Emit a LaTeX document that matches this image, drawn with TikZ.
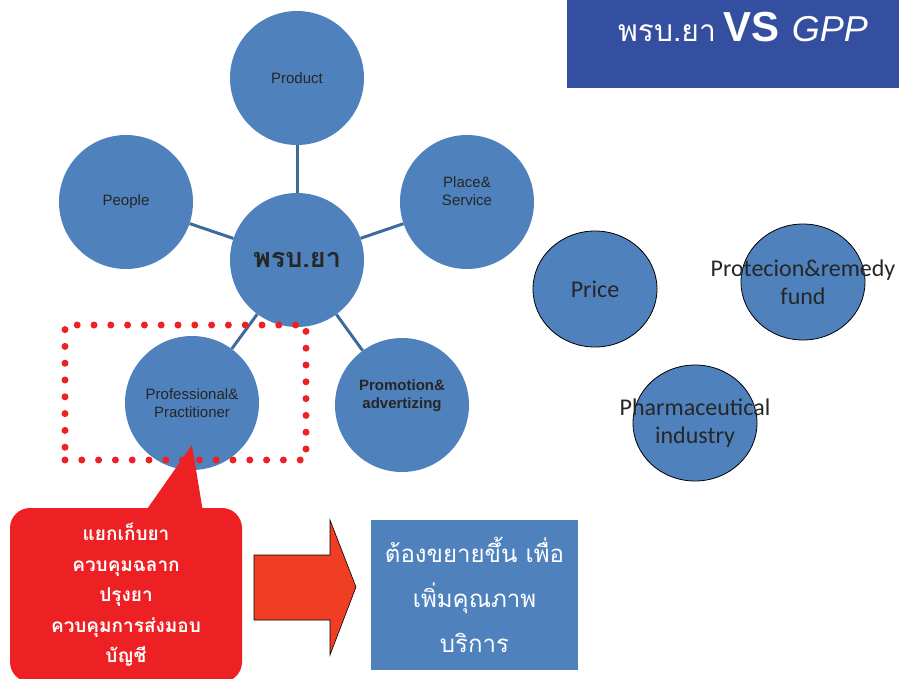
\documentclass[tikz,border=0pt]{standalone}
\usepackage{fontspec}
\setmainfont{Liberation Sans}
\newfontfamily\thaifont[Script=Thai]{Loma}
\newfontfamily\calibri{Carlito}
\usetikzlibrary{positioning, shapes.geometric, calc}
\definecolor{office-blue}{HTML}{4F81BD}
\definecolor{link-blue}{HTML}{3E6B9E}
\definecolor{title-blue}{HTML}{344EA0}
\definecolor{alarm-red}{HTML}{ED2024}
\definecolor{arrow-red}{HTML}{EF3E23}
\definecolor{label-grey}{HTML}{262626}

\tikzset{
  ball/.style={circle, fill=office-blue, minimum size=134pt, inner sep=0pt,
    text=label-grey, align=center, font=\fontsize{15}{18}\selectfont},
  egg/.style={ellipse, draw=black, line width=0.8pt, fill=office-blue,
    minimum width=124pt, minimum height=116pt},
  egglabel/.style={text=label-grey, align=center, font=\calibri\fontsize{24}{28}\selectfont},
  spoke/.style={link-blue, line width=3pt},
  dotbox/.style={draw=alarm-red, line width=7pt, line cap=round, dash pattern=on 0pt off 16.8pt}
}

\begin{document}
\begin{tikzpicture}[x=1pt, y=-1pt]
  \useasboundingbox (0,0) rectangle (899,678);

  % title
  \fill[title-blue] (567,0) rectangle (899,88);
  \node[anchor=base west, text=white, inner sep=0pt] at (618,41) (title)
    {{\thaifont\fontsize{30}{30}\selectfont พรบ.ยา}\hspace{8pt}{\bfseries\fontsize{42}{42}\selectfont VS}\hspace{12pt}{\itshape\fontsize{36}{36}\selectfont GPP}};

  % the 6P star
  \node[ball] at (297,260) (act) {\thaifont\bfseries\fontsize{27}{30}\selectfont พรบ.ยา};
  \node[ball] at (297,78) (product) {Product};
  \node[ball] at (126,202) (people) {People};
  \node[ball] at (467,202) (place) {\raisebox{6pt}[0pt][0pt]{\begin{tabular}{@{}c@{}}Place\&\\Service\end{tabular}}};
  \node[ball] at (192,403) (prof) {Professional\&\\Practitioner};
  \node[ball, font=\bfseries\fontsize{15}{18}\selectfont] at (402,405) (promo)
    {\raisebox{6pt}[0pt][0pt]{\begin{tabular}{@{}c@{}}Promotion\&\\advertizing\end{tabular}}};
  \foreach \p in {product, people, place, prof, promo}
    \draw[spoke] (act) -- (\p);

  % the other three
  \node[egg] at (595,289) (price) {};
  \node[egg] at (803,282) (fund) {};
  \node[egg] at (695,423) (industry) {};
  \node[egglabel] at (price) {Price};
  \node[egglabel] at (fund) {Protecion\&remedy\\fund};
  \node[egglabel] at (industry) {Pharmaceutical\\industry};

  \node[dotbox, minimum width=241pt, minimum height=135pt] at (185.5,392.5) (profbox) {};

  % callout
  \node[fill=alarm-red, rounded corners=20pt, minimum width=232pt, minimum height=174pt,
    text=white, align=center, font=\thaifont\bfseries\fontsize{19}{30.5}\selectfont]
    at (126,595) (callout) {แยกเก็บยา\\ควบคุมฉลาก\\ปรุงยา\\ควบคุมการส่งมอบ\\บัญชี};
  \coordinate (tip) at (192,445);
  \fill[alarm-red] (145,512) -- (tip) -- (203,512) -- cycle;

  % arrow
  \draw[fill=arrow-red, line width=0.6pt] (254,555) -- (330,555) -- (330,520) -- (356,587)
    -- (330,655) -- (330,620) -- (254,620) -- cycle;

  \node[fill=office-blue, minimum width=207pt, minimum height=150pt, text=white, align=center,
    font=\thaifont\fontsize{24}{45}\selectfont] at (474.5,595) (gpp) {ต้องขยายขึ้น เพื่อ\\เพิ่มคุณภาพ\\บริการ};
\end{tikzpicture}
\end{document}
